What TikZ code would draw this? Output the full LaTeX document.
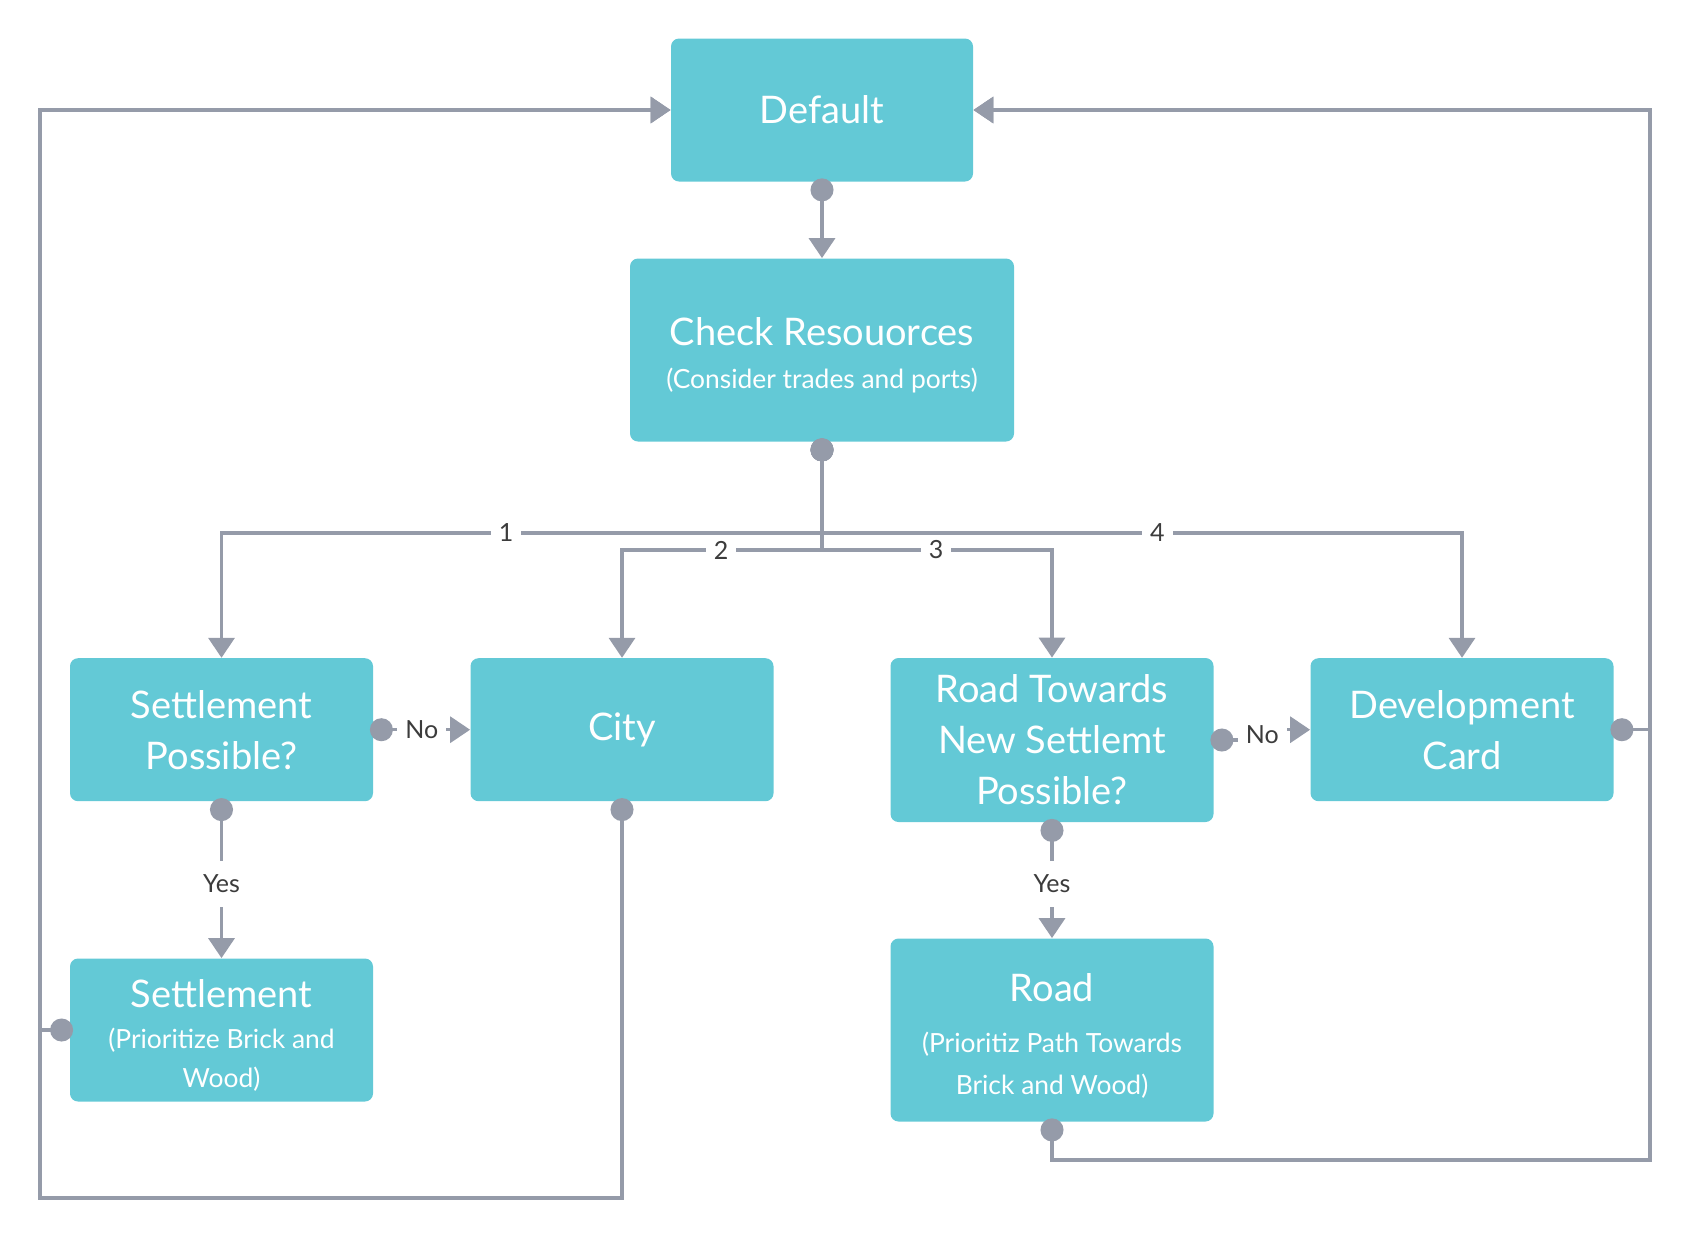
\documentclass[tikz,border=0pt]{standalone}
\usepackage{fontspec}
\setmainfont{Lato}
\usetikzlibrary{arrows.meta,calc}
\definecolor{boxc}{HTML}{63C9D6}
\definecolor{linec}{HTML}{959BA9}
\definecolor{lblc}{HTML}{3C3C3C}
\newcommand\ttlf{\fontsize{19}{25.5}\selectfont}
\newcommand\subtf{\fontsize{13.2}{20}\selectfont}
\newcommand\lblf{\fontsize{12.5}{15}\selectfont}
\newcommand\topstrut{\rule{0pt}{19.5pt}}
\begin{document}
\begin{tikzpicture}[x=0.5pt,y=-0.5pt,
  box/.style={rectangle, rounded corners=4pt, fill=boxc, text=white, align=center, inner sep=0pt, font=\ttlf},
  conn/.style={draw=linec, line width=1.75pt, {Circle[length=11.5pt,width=11.5pt]}-{Triangle[length=10pt,width=13pt]}, shorten <=-1.75pt},
  hlbl/.style={fill=white, text=lblc, font=\lblf, inner xsep=4pt, inner ysep=1pt},
  vlbl/.style={fill=white, text=lblc, font=\lblf, inner xsep=2pt, inner ysep=7pt}]
\useasboundingbox (0,0) rectangle (1690,1238);
% boxes
\node[box, minimum width=151pt, minimum height=71.5pt] (def) at (822,110) {Default};
\node[box, minimum width=192pt, minimum height=91.5pt] (chk) at (822,350) {\topstrut Check Resouorces\\[-4.2pt]\subtf (Consider trades and ports)};
\node[box, minimum width=151.5pt, minimum height=71.5pt] (sp) at (221.5,729.7) {Settlement\\Possible?};
\node[box, minimum width=151.5pt, minimum height=71.5pt] (city) at (622,729.7) {City};
\node[box, minimum width=161.5pt, minimum height=82pt] (rt) at (1052,740) {Road Towards\\New Settlemt\\Possible?};
\node[box, minimum width=151.5pt, minimum height=71.5pt] (dev) at (1462,729.7) {Development\\Card};
\node[box, minimum width=151.5pt, minimum height=71.5pt] (set) at (221.5,1030) {\topstrut Settlement\\[-5.2pt]\subtf (Prioritize Brick and\\[-6.2pt]\subtf Wood)};
\node[box, minimum width=161.5pt, minimum height=91.5pt] (road) at (1052,1030) {\topstrut Road\\\subtf (Prioritiz Path Towards\\[-4.5pt]\subtf Brick and Wood)};
% helper coordinates
\coordinate (r1) at (0,533);
\coordinate (r2) at (0,550);
\coordinate (mn) at (1262.3,0);
\coordinate (lx) at (40,0);
\coordinate (rx) at (1650,0);
\coordinate (by1) at (0,1198);
\coordinate (by2) at (0,1160);
% connectors
\draw[conn] (def.south) -- (chk.north);
\draw[conn] (chk.south) -- (chk.south |- r1) -- node[hlbl, pos=0.526]{1} (sp.north |- r1) -- (sp.north);
\draw[conn] (chk.south) -- (chk.south |- r2) -- node[hlbl, pos=0.505]{2} (city.north |- r2) -- (city.north);
\draw[conn] (chk.south) -- (chk.south |- r2) -- node[hlbl, pos=0.496]{3} (rt.north |- r2) -- (rt.north);
\draw[conn] (chk.south) -- (chk.south |- r1) -- node[hlbl, pos=0.524]{4} (dev.north |- r1) -- (dev.north);
\draw[conn] (sp.east) -- node[hlbl]{No} (city.west);
\draw[conn] (rt.east) -- (rt.east -| mn) -- node[hlbl, inner ysep=4pt]{No} (dev.west -| mn) -- (dev.west);
\draw[conn] (sp.south) -- node[vlbl, pos=0.525]{Yes} (set.north);
\draw[conn] (rt.south) -- node[vlbl, pos=0.53]{Yes} (road.north);
\draw[conn] (set.west) -- (set.west -| lx) -- (def.west -| lx) -- (def.west);
\draw[conn] (city.south) -- (city.south |- by1) -- (lx |- by1) -- (def.west -| lx) -- (def.west);
\draw[conn] (dev.east) -- (dev.east -| rx) -- (def.east -| rx) -- (def.east);
\draw[conn] (road.south) -- (road.south |- by2) -- (rx |- by2) -- (def.east -| rx) -- (def.east);
\end{tikzpicture}
\end{document}
